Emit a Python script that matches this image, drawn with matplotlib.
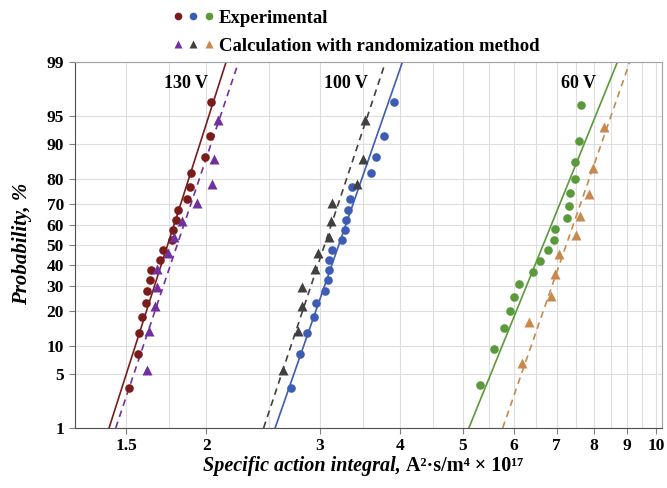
import numpy as np
import matplotlib
matplotlib.use("Agg")
import matplotlib.pyplot as plt
from matplotlib.ticker import FixedLocator, NullFormatter
from matplotlib.lines import Line2D
from matplotlib.legend_handler import HandlerTuple
from statistics import NormalDist

plt.rcParams['font.family'] = ['Liberation Serif', 'DejaVu Serif']
plt.rcParams['font.weight'] = 'bold'

# probabilities, % (median ranks)
p20 = [3.43, 8.33, 13.24, 18.14, 23.04, 27.94, 32.84, 37.75, 42.65, 47.55,
       52.45, 57.35, 62.25, 67.16, 72.06, 76.96, 81.86, 86.76, 91.67, 96.57]
p18 = [3.80, 9.24, 14.67, 20.11, 25.54, 30.98, 36.41, 41.85, 47.28, 52.72,
       58.15, 63.59, 69.02, 74.46, 79.89, 85.33, 90.76, 96.20]
p12 = [5.65, 13.71, 21.77, 29.84, 37.90, 45.97, 54.03, 62.10, 70.16, 78.23, 86.29, 94.35]
p10 = [6.73, 16.35, 25.96, 35.58, 45.19, 54.81, 64.42, 74.04, 83.65, 93.27]

# 130 V
exp130 = [1.516, 1.566, 1.573, 1.590, 1.613, 1.617, 1.634, 1.638, 1.693, 1.710,
          1.766, 1.776, 1.795, 1.810, 1.865, 1.884, 1.891, 1.991, 2.029, 2.034]
cal130 = [1.615, 1.626, 1.665, 1.677, 1.677, 1.742, 1.784, 1.836, 1.935, 2.039, 2.053, 2.083]
# 100 V
exp100 = [2.711, 2.799, 2.863, 2.939, 2.960, 3.053, 3.093, 3.104, 3.104, 3.134,
          3.248, 3.280, 3.295, 3.314, 3.345, 3.369, 3.605, 3.670, 3.772, 3.905]
cal100 = [2.630, 2.776, 2.816, 2.816, 2.947, 2.982, 3.097, 3.122, 3.134, 3.422, 3.496, 3.529]
# 60 V
exp60 = [5.324, 5.589, 5.800, 5.917, 6.002, 6.125, 6.438, 6.593, 6.774, 6.921,
         6.945, 7.259, 7.311, 7.338, 7.486, 7.486, 7.567, 7.632]
cal60 = [6.190, 6.341, 6.848, 6.945, 7.045, 7.496, 7.621, 7.861, 7.974, 8.284]

# fitted lines: x at 1 % and 99 %
fit_p = [1, 99]
fit130_exp = [1.412, 2.146]
fit130_cal = [1.446, 2.244]
fit100_exp = [2.557, 4.032]
fit100_cal = [2.454, 3.795]
fit60_exp = [5.113, 8.697]
fit60_cal = [5.770, 9.089]

x_ticks = [1.5, 2, 3, 4, 5, 6, 7, 8, 9, 10]
x_minor = [1.75, 2.5, 3.5, 4.5, 5.5, 6.5, 7.5, 8.5, 9.5]
y_ticks = [1, 5, 10, 20, 30, 40, 50, 60, 70, 80, 90, 95, 99]

c_red, c_blue, c_green = '#7a1c1c', '#3d5cb4', '#5b9a3a'
c_purple, c_grey, c_tan = '#7030a0', '#404040', '#c8894e'

_nd = NormalDist()
_ppf = np.vectorize(_nd.inv_cdf, otypes=[float])
_cdf = np.vectorize(_nd.cdf, otypes=[float])


def fwd(p):
    p = np.clip(np.asarray(p, dtype=float) / 100.0, 1e-9, 1 - 1e-9)
    return _ppf(p)


def inv(z):
    return _cdf(np.asarray(z, dtype=float)) * 100.0


fig = plt.figure(figsize=(6.67, 4.88), dpi=100)
ax = fig.add_axes([0.1124, 0.123, 0.8801, 0.750])
ax.set_xscale('log')
ax.set_yscale('function', functions=(fwd, inv))

# fitted lines
dash = (0, (4, 3))
ax.plot(fit130_exp, fit_p, color=c_red, lw=1.2)
ax.plot(fit130_cal, fit_p, color=c_purple, lw=1.2, ls=dash)
ax.plot(fit100_exp, fit_p, color=c_blue, lw=1.2)
ax.plot(fit100_cal, fit_p, color=c_grey, lw=1.2, ls=dash)
ax.plot(fit60_exp, fit_p, color=c_green, lw=1.2)
ax.plot(fit60_cal, fit_p, color=c_tan, lw=1.2, ls=dash)

# points
ms_o, ms_t = 6.2, 7.2
ax.plot(exp130, p20, 'o', color=c_red, ms=ms_o, mec='none')
ax.plot(cal130, p12, '^', color=c_purple, ms=ms_t, mec='none')
ax.plot(exp100, p20, 'o', color=c_blue, ms=ms_o, mec='none')
ax.plot(cal100, p12, '^', color=c_grey, ms=ms_t, mec='none')
ax.plot(exp60, p18, 'o', color=c_green, ms=ms_o, mec='none')
ax.plot(cal60, p10, '^', color=c_tan, ms=ms_t, mec='none')

ax.set_xlim(1.25, 10.2)
ax.set_ylim(1, 99)
ax.xaxis.set_major_locator(FixedLocator(x_ticks))
ax.set_xticklabels([str(v) for v in x_ticks])
ax.xaxis.set_minor_locator(FixedLocator(x_minor))
ax.xaxis.set_minor_formatter(NullFormatter())
ax.yaxis.set_major_locator(FixedLocator(y_ticks))
ax.set_yticklabels([str(v) for v in y_ticks])
ax.yaxis.set_minor_locator(FixedLocator([]))
ax.tick_params(axis='both', which='major', labelsize=12.5, length=4, width=0.8,
               color='#808080', pad=3)
ax.tick_params(axis='y', which='major', pad=4)
ax.tick_params(axis='x', which='minor', length=0)
ax.grid(True, which='both', color='#dedede', lw=0.8)
ax.set_axisbelow(True)
for s in ax.spines.values():
    s.set_color('#a0a0a0')
ax.spines['left'].set_color('#505050')
ax.spines['bottom'].set_color('#505050')

# voltage labels
ax.text(1.856, 98.0, '130 V', fontsize=13, fontweight='bold', ha='center', va='center')
ax.text(3.289, 98.0, '100 V', fontsize=13, fontweight='bold', ha='center', va='center')
ax.text(7.556, 98.0, '60 V', fontsize=13, fontweight='bold', ha='center', va='center')

# axis labels
fig.text(0.033, 0.50, 'Probability, %', rotation=90, fontsize=15, fontweight='bold',
         style='italic', ha='center', va='center')
fig.text(0.601, 0.035, 'Specific action integral,', fontsize=14.5, fontweight='bold',
         style='italic', ha='right', va='baseline')
fig.text(0.608, 0.035, 'A²·s/m⁴ × 10¹⁷', fontsize=14.5, fontweight='bold',
         ha='left', va='baseline')

# legend
h_exp = tuple(Line2D([], [], ls='none', marker='o', color=c, ms=5.5, mec='none')
              for c in (c_red, c_blue, c_green))
h_cal = tuple(Line2D([], [], ls='none', marker='^', color=c, ms=6, mec='none')
              for c in (c_purple, c_grey, c_tan))
fig.legend([h_exp, h_cal], ['Experimental', 'Calculation with randomization method'],
           handler_map={tuple: HandlerTuple(ndivide=None, pad=0.4)},
           loc='upper left', bbox_to_anchor=(0.235, 1.015), frameon=False,
           prop={'size': 13.5, 'weight': 'bold'}, handlelength=2.1, handletextpad=0.3,
           labelspacing=0.6)

fig.savefig('out.png', dpi=100)
